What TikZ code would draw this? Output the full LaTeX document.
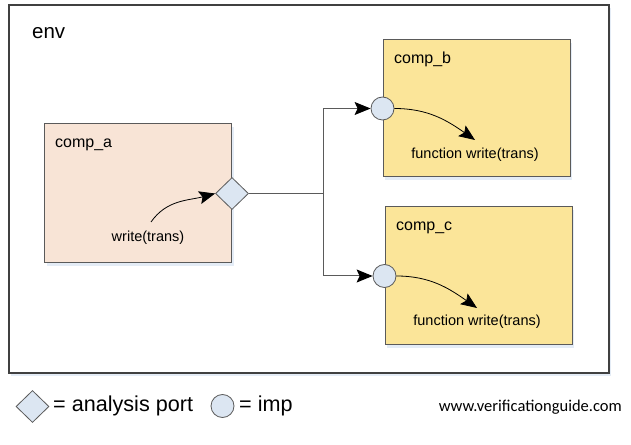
\documentclass[tikz,border=0pt]{standalone}
\usepackage{fontspec}
\setmainfont{Liberation Sans}
\newfontfamily\webfont{Carlito}
\usetikzlibrary{arrows.meta,shapes.geometric,shadows}

\definecolor{envline}{RGB}{64,64,64}
\definecolor{boxline}{RGB}{90,90,90}
\definecolor{peach}{RGB}{248,228,214}
\definecolor{straw}{RGB}{251,229,153}
\definecolor{portblue}{RGB}{220,230,242}
\definecolor{glow}{RGB}{228,236,246}

\begin{document}
\begin{tikzpicture}[x=1pt,y=1pt,
    component/.style ={rectangle, draw=boxline, line width=1pt, minimum width=187pt,
                       drop shadow={shadow xshift=2pt, shadow yshift=-3pt, fill=glow, opacity=1}},
    aport/.style ={diamond, draw=boxline, fill=portblue, line width=0.8pt, inner sep=0pt,
                   minimum width=33pt, minimum height=32pt},
    imp/.style ={circle, draw=boxline, fill=portblue, line width=0.8pt, inner sep=0pt,
                 minimum size=23pt},
    label/.style ={inner sep=0pt, font=\fontsize{16}{19}\selectfont},
    call/.style ={inner sep=0pt, font=\fontsize{14.5}{17}\selectfont},
    arrow/.style ={-{Stealth[length=16pt,width=13pt,inset=3pt,black]}}]
   \useasboundingbox (0,0) rectangle (631,444);
   \fill[white] (0,0) rectangle (631,444);

   % environment
   \node[rectangle, draw=envline, line width=1.2pt, fill=white, minimum width=600pt, minimum height=368pt,
         drop shadow={shadow xshift=2pt, shadow yshift=-3pt, fill=glow, opacity=1}] (env) at (309,255) {};
   \node[inner sep=0pt, anchor=base west, font=\fontsize{20.5}{24}\selectfont] (envlbl) at (32,405) {env};

   % components
   \node[component, fill=peach, minimum height=139pt] (compa) at (138,250.5) {};
   \node[component, fill=straw, minimum height=137pt] (compb) at (476.5,335.5) {};
   \node[component, fill=straw, minimum height=138pt] (compc) at (478.5,168) {};

   \node[label, anchor=base west] (lbla) at (55,296) {comp\_a};
   \node[label, anchor=base west] (lblb) at (394,380) {comp\_b};
   \node[label, anchor=base west] (lblc) at (396,213) {comp\_c};

   % ports
   \node[aport] (pa) at (compa.east) {};
   \node[imp] (ib) at (compb.west) {};
   \node[imp] (ic) at (compc.west) {};

   % method calls
   \node[call, anchor=base] (wra) at (148,202) {write(trans)};
   \node[call, anchor=base] (fnb) at (475,285) {function write(trans)};
   \node[call, anchor=base] (fnc) at (477,118) {function write(trans)};
   \coordinate (sa) at (151,222);
   \coordinate (eb) at (475,304);
   \coordinate (ec) at (477,136);

   \draw[arrow, line width=0.8pt] (sa) to[out=55, in=195] (pa.west);
   \draw[arrow, line width=0.8pt] (ib.east) to[out=0, in=145] (eb);
   \draw[arrow, line width=0.8pt] (ic.east) to[out=0, in=145] (ec);

   % connections
   \coordinate (j) at (323,250.5);
   \draw[boxline, line width=1pt] (pa.east) -- (j);
   \draw[boxline, line width=1pt, arrow] (j) |- (ib.west);
   \draw[boxline, line width=1pt, arrow] (j) |- (ic.west);

   % legend
   \node[aport] (kport) at (32.5,37.5) {};
   \node[inner sep=0pt, anchor=base west, font=\fontsize{21.6}{25}\selectfont] (kporttxt) at (53,32) {= analysis port};
   \node[imp] (kimp) at (222.5,38) {};
   \node[inner sep=0pt, anchor=base west, font=\fontsize{21.6}{25}\selectfont] (kimptxt) at (239,32) {= imp};
   \node[inner sep=0pt, anchor=base east, font=\webfont\fontsize{16.5}{20}\selectfont] (web) at (622,32) {www.verificationguide.com};
 \end{tikzpicture}
\end{document}
